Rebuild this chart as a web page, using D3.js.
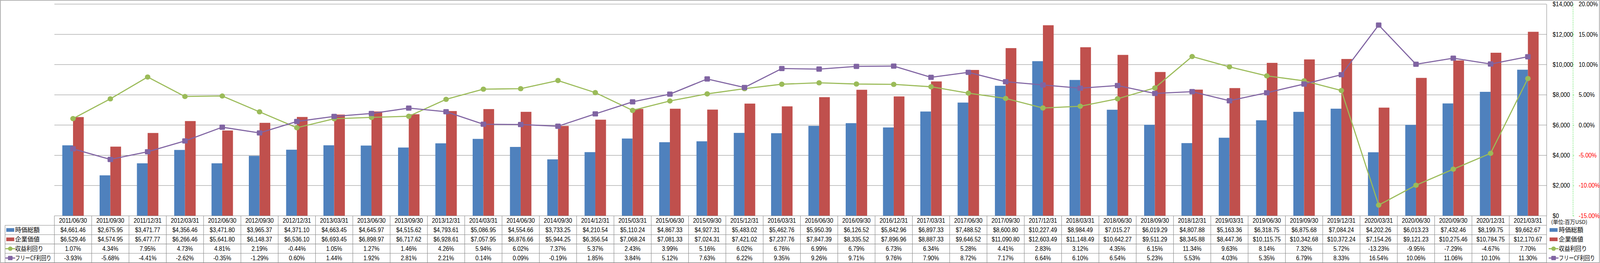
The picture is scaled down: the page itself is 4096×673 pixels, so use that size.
<!DOCTYPE html>
<html>
<head>
<meta charset="utf-8">
<script src="https://cdn.jsdelivr.net/npm/d3@7"></script>
<style>
  html, body { margin: 0; padding: 0; background: #fff; overflow: hidden; }
  svg { display: block; }
</style>
</head>
<body>
<svg id="chart"></svg>
<script>
// ---------- data ----------
const dates = ["2011/06/30","2011/09/30","2011/12/31","2012/03/31","2012/06/30","2012/09/30","2012/12/31","2013/03/31","2013/06/30","2013/09/30",
  "2013/12/31","2014/03/31","2014/06/30","2014/09/30","2014/12/31","2015/03/31","2015/06/30","2015/09/30","2015/12/31","2016/03/31",
  "2016/06/30","2016/09/30","2016/12/31","2017/03/31","2017/06/30","2017/09/30","2017/12/31","2018/03/31","2018/06/30","2018/09/30",
  "2018/12/31","2019/03/31","2019/06/30","2019/09/30","2019/12/31","2020/03/31","2020/06/30","2020/09/30","2020/12/31","2021/03/31"];
const marketCap = [4661.46,2675.95,3471.77,4356.46,3471.80,3965.37,4371.10,4663.45,4645.97,4515.62,
  4793.61,5086.95,4554.66,3733.25,4210.54,5110.24,4867.33,4927.31,5483.02,5462.76,
  5950.39,6126.52,5842.96,6897.33,7488.52,8600.80,10227.49,8984.49,7015.27,6019.29,
  4807.88,5163.36,6318.75,6875.68,7084.24,4202.26,6013.23,7432.46,8199.75,9662.67];
const enterpriseValue = [6529.46,4574.95,5477.77,6266.46,5641.80,6148.37,6536.10,6693.45,6898.97,6717.62,
  6928.61,7057.95,6876.66,5944.25,6356.54,7068.24,7081.33,7024.31,7421.02,7237.76,
  7847.39,8335.52,7896.96,8887.33,9646.52,11090.80,12603.49,11148.49,10642.27,9511.29,
  8345.88,8447.36,10115.75,10342.68,10372.24,7154.26,9121.23,10275.46,10784.75,12170.67];
const earningsYield = [1.07,4.34,7.95,4.73,4.81,2.19,-0.44,1.05,1.27,1.46,
  4.26,5.94,6.02,7.37,5.37,2.43,3.99,5.16,6.02,6.76,
  6.99,6.79,6.73,6.34,5.28,4.41,2.83,3.12,4.35,6.15,
  11.34,9.63,8.14,7.32,5.72,-13.23,-9.95,-7.29,-4.67,7.70];
const fcfYield = [-3.93,-5.68,-4.41,-2.62,-0.35,-1.29,0.60,1.44,1.92,2.81,
  2.21,0.14,0.09,-0.19,1.85,3.84,5.12,7.63,6.22,9.35,
  9.26,9.71,9.76,7.90,8.72,7.17,6.64,6.10,6.54,5.23,
  5.53,4.03,5.35,6.79,8.33,16.54,10.06,11.06,10.10,11.30];
const seriesNames = ["時価総額","企業価値","収益利回り","フリーCF利回り"];
const dollarTicks = [0,2000,4000,6000,8000,10000,12000,14000];
const pctTicks = [-15,-10,-5,0,5,10,15,20];
const unitLabel = "(単位:百万USD)";

// ---------- layout (reference pixel space) ----------
const W = 5221, H = 858;
const plotL = 177, plotR = 5047, plotT = 13.5, plotB = 704;
const rowY = [704, 735, 765.5, 796, 826.5, 857];
const legendMaxW = [80, 80, 92, 118];
const COLORS = { blue: "#4F81BD", red: "#C0504D", green: "#9BBB59", purple: "#8064A2", grid: "#888888" };
const LATIN = "'Liberation Sans', Arial, sans-serif";
const CJK = "'Noto Sans CJK JP', 'Noto Sans CJK SC', sans-serif";
const SX = 0.9; // horizontal condensing of latin text

const svg = d3.select("#chart")
  .attr("width", 4096).attr("height", 673)
  .attr("viewBox", `0 0 ${W} ${H}`);

const x = d3.scaleBand().domain(dates).range([plotL, plotR]).padding(0);
const yD = d3.scaleLinear().domain([0, 14000]).range([plotB, plotT]);
const yP = d3.scaleLinear().domain([-15, 20]).range([plotB, plotT]);
const cx = d => x(d) + x.bandwidth() / 2;
const barW = 35;

const fmtD = d3.format("$,.2f");
const fmtP = v => v.toFixed(2) + "%";

// outer border
svg.append("rect").attr("x", 1).attr("y", 1).attr("width", W - 2.5).attr("height", H - 2)
  .attr("fill", "none").attr("stroke", COLORS.grid).attr("stroke-width", 1.6);

// gridlines
svg.append("g").selectAll("line").data(dollarTicks.filter(t => t > 0)).join("line")
  .attr("x1", plotL).attr("x2", plotR)
  .attr("y1", d => yD(d)).attr("y2", d => yD(d))
  .attr("stroke", COLORS.grid).attr("stroke-width", 1.3);

// bars
const bars = svg.append("g");
bars.selectAll("rect.mc").data(dates).join("rect").attr("class", "mc")
  .attr("x", d => cx(d) - barW).attr("width", barW)
  .attr("y", (d, i) => yD(marketCap[i])).attr("height", (d, i) => plotB - yD(marketCap[i]))
  .attr("fill", COLORS.blue);
bars.selectAll("rect.ev").data(dates).join("rect").attr("class", "ev")
  .attr("x", d => cx(d)).attr("width", barW)
  .attr("y", (d, i) => yD(enterpriseValue[i])).attr("height", (d, i) => plotB - yD(enterpriseValue[i]))
  .attr("fill", COLORS.red);

// lines
const lineGen = arr => d3.line().x((d, i) => cx(dates[i])).y(d => yP(d))(arr);
svg.append("path").attr("d", lineGen(earningsYield)).attr("fill", "none")
  .attr("stroke", COLORS.green).attr("stroke-width", 3.6).attr("stroke-linejoin", "round");
svg.append("path").attr("d", lineGen(fcfYield)).attr("fill", "none")
  .attr("stroke", COLORS.purple).attr("stroke-width", 3.6).attr("stroke-linejoin", "round");

svg.append("g").selectAll("ellipse").data(earningsYield).join("ellipse")
  .attr("cx", (d, i) => cx(dates[i])).attr("cy", d => yP(d))
  .attr("rx", 9).attr("ry", 8.5).attr("fill", COLORS.green);
svg.append("g").selectAll("rect").data(fcfYield).join("rect")
  .attr("x", (d, i) => cx(dates[i]) - 9).attr("y", d => yP(d) - 8.5)
  .attr("width", 18).attr("height", 17).attr("rx", 2.5)
  .attr("fill", COLORS.purple);

// primary ($) axis on the right of the plot
const axD = d3.axisRight(yD).tickValues(dollarTicks).tickFormat(d3.format("$,")).tickSize(0).tickPadding(20).tickSizeOuter(0);
const gD = svg.append("g").attr("transform", `translate(${plotR},0)`).call(axD);
gD.select(".domain").attr("stroke", COLORS.grid).attr("stroke-width", 1.3);
gD.selectAll("text").attr("font-family", LATIN).attr("font-size", 20.5).attr("fill", "#000")
  .attr("x", 20 / SX).attr("transform", `scale(${SX},1)`);

// secondary (%) axis
const axP = d3.axisRight(yP).tickValues(pctTicks).tickFormat(fmtP).tickSize(4).tickPadding(15).tickSizeOuter(0);
const axPx = 5133;
const gP = svg.append("g").attr("transform", `translate(${axPx},0)`).call(axP);
gP.select(".domain").attr("stroke", "#33DD33").attr("stroke-width", 1.4).attr("stroke-dasharray", "3,3");
gP.selectAll(".tick line").attr("stroke", "#33DD33").attr("stroke-width", 1.2);
gP.selectAll("text").attr("font-family", LATIN).attr("font-size", 20.5)
  .attr("fill", d => d < 0 ? "#FF0000" : "#000")
  .attr("x", 19 / SX).attr("transform", `scale(${SX},1)`);

// ---------- data table ----------
const tbl = svg.append("g");
const tStroke = COLORS.grid;
rowY.forEach((yy, i) => {
  tbl.append("line").attr("x1", i === 0 ? plotL : 16).attr("x2", plotR)
    .attr("y1", yy).attr("y2", yy).attr("stroke", tStroke).attr("stroke-width", 1.4);
});
tbl.append("line").attr("x1", 16).attr("x2", 16).attr("y1", rowY[1]).attr("y2", rowY[5])
  .attr("stroke", tStroke).attr("stroke-width", 1.4);
const bounds = dates.map(d => x(d)).concat([plotR]);
tbl.selectAll("line.v").data(bounds).join("line").attr("class", "v")
  .attr("x1", d => d).attr("x2", d => d).attr("y1", rowY[0]).attr("y2", rowY[5])
  .attr("stroke", tStroke).attr("stroke-width", 1.4);

const rowsData = [
  dates,
  marketCap.map(fmtD),
  enterpriseValue.map(fmtD),
  earningsYield.map(fmtP),
  fcfYield.map(fmtP)
];
rowsData.forEach((vals, r) => {
  const yc = (rowY[r] + rowY[r + 1]) / 2;
  tbl.append("g").selectAll("text").data(vals).join("text")
    .attr("transform", (d, i) => `translate(${cx(dates[i])},${yc}) scale(${SX},1)`)
    .attr("text-anchor", "middle").attr("dy", "0.36em")
    .attr("font-family", LATIN).attr("font-size", 20.5).attr("fill", "#000")
    .text(d => d);
});

// legend keys (in table and on the right)
function legendKey(g, idx, kx, yc) {
  if (idx === 0 || idx === 1) {
    g.append("rect").attr("x", kx).attr("y", yc - 6).attr("width", 26).attr("height", 12)
      .attr("fill", idx === 0 ? COLORS.blue : COLORS.red);
  } else {
    const col = idx === 2 ? COLORS.green : COLORS.purple;
    g.append("line").attr("x1", kx - 3).attr("x2", kx + 29).attr("y1", yc).attr("y2", yc)
      .attr("stroke", col).attr("stroke-width", 3.6);
    if (idx === 2) {
      g.append("ellipse").attr("cx", kx + 13).attr("cy", yc).attr("rx", 7.5).attr("ry", 7).attr("fill", col);
    } else {
      g.append("rect").attr("x", kx + 5.5).attr("y", yc - 7).attr("width", 15).attr("height", 14)
        .attr("rx", 2).attr("fill", col);
    }
  }
}
function legendText(g, name, i, tx, yc) {
  const t = g.append("text").attr("x", 0).attr("y", 0).attr("dy", "0.36em")
    .attr("font-family", CJK).attr("font-size", 20).attr("fill", "#000").text(name);
  const len = t.node().getComputedTextLength();
  const k = len > legendMaxW[i] ? legendMaxW[i] / len : 1;
  t.attr("transform", `translate(${tx},${yc}) scale(${k},1)`);
}
const leg = svg.append("g");
seriesNames.forEach((name, i) => {
  const yc = (rowY[i + 1] + rowY[i + 2]) / 2;
  legendKey(leg, i, 20, yc);
  legendText(leg, name, i, 49, yc);
  legendKey(leg, i, 5057, yc);
  legendText(leg, name, i, 5087, yc);
});
leg.append("text").attr("x", 5062).attr("y", 725).attr("dy", "0.36em")
  .attr("font-family", CJK).attr("font-size", 17).attr("fill", "#000").text(unitLabel);
</script>
</body>
</html>
